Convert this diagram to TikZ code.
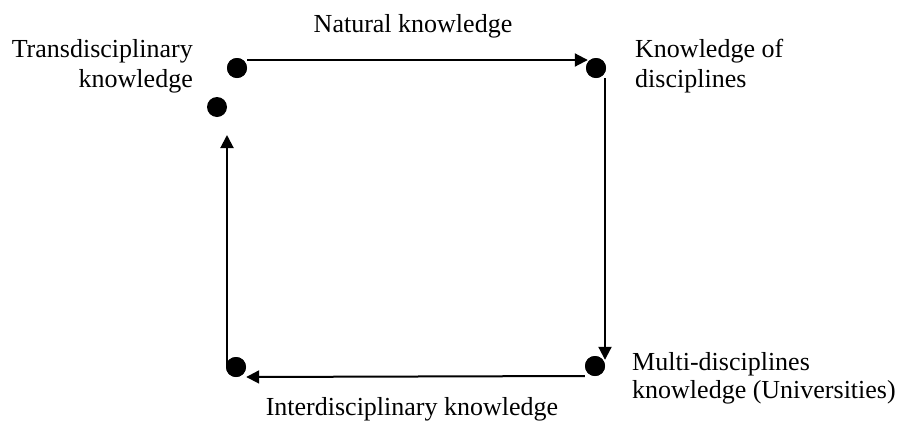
\documentclass[tikz,border=0pt]{standalone}
\usepackage{fontspec}
\setmainfont{Liberation Serif}
\usetikzlibrary{arrows.meta}
\begin{document}
\begin{tikzpicture}[x=1pt,y=-1pt,
  dot/.style={circle,fill=black,inner sep=0pt,minimum size=20pt},
  lbl/.style={inner sep=0pt,font=\fontsize{26}{30}\selectfont},
  arr/.style={line width=2pt,-{Triangle[length=13pt,width=13pt]}}]
\useasboundingbox (0,0) rectangle (897,421);
% dots
\node[dot] (tl) at (237,68) {};
\node[dot] (td) at (217,107) {};
\node[dot] (tr) at (596,68) {};
\node[dot] (br) at (595,366) {};
\node[dot] (bl) at (236,367) {};
\coordinate (lt) at (227,135);
% connectors
\draw[arr] ([yshift=8pt]tl.east) -- ([yshift=8pt,xshift=2pt]tr.west);
\draw[arr] ([xshift=9pt]tr.south) -- ([xshift=10pt,yshift=-4pt]br.north);
\draw[arr] ([yshift=-10pt]br.west) -- ([yshift=-10pt]bl.east);
\draw[arr] ([xshift=-9pt]bl.center) -- (lt);
% redraw dots on top
\foreach \n in {tl,tr,br,bl}{\fill (\n) circle (10pt);}
% labels (base anchor = baseline of last line)
\node[lbl,anchor=base] (nat) at (413,32) {Natural knowledge};
\node[lbl,anchor=base east,align=right] (trans) at (193,87) {Transdisciplinary\\knowledge};
\node[lbl,anchor=base west,align=left] (kod) at (635,87) {Knowledge of\\disciplines};
\node[lbl,anchor=base west,align=left,font=\fontsize{26}{28}\selectfont] (multi) at (632,398) {Multi-disciplines\\knowledge (Universities)};
\node[lbl,anchor=base] (inter) at (412,415) {Interdisciplinary knowledge};
\end{tikzpicture}
\end{document}
